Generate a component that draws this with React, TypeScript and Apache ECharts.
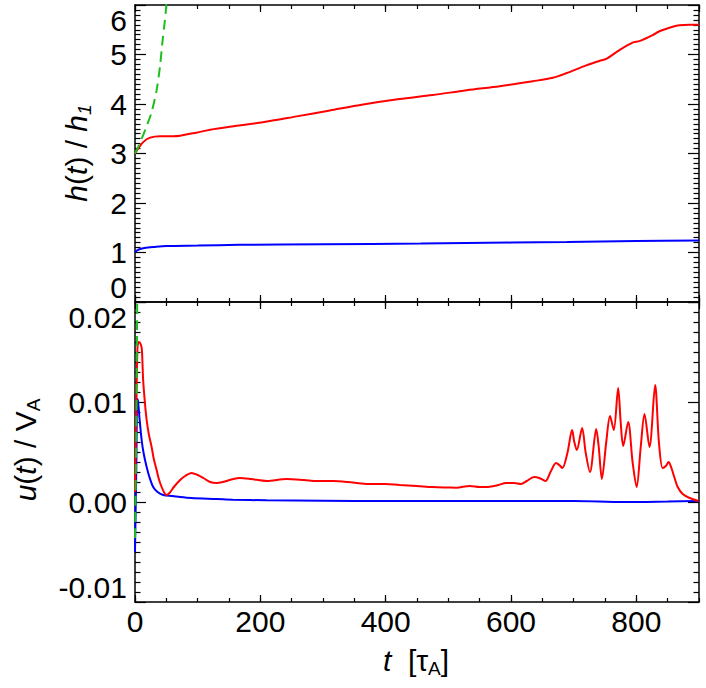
import React, { useEffect, useRef } from 'react';
import * as echarts from 'echarts';

// ---------- data: top panel h(t)/h1 ----------
const hRedT = [0, 5, 13, 24, 40, 61, 72, 88, 98, 120, 151, 204, 258, 311, 364, 422, 475, 529, 582, 635, 667, 688, 720, 741, 752, 773, 794, 805, 826, 837, 858, 869, 885, 900];
const hRedV = [3.0, 3.1, 3.23, 3.32, 3.35, 3.35, 3.36, 3.4, 3.42, 3.48, 3.54, 3.63, 3.75, 3.87, 3.99, 4.1, 4.18, 4.28, 4.36, 4.46, 4.53, 4.62, 4.78, 4.87, 4.91, 5.09, 5.24, 5.27, 5.39, 5.47, 5.56, 5.59, 5.6, 5.6];
const hBlueT = [0, 3, 8, 15, 30, 50, 100, 166, 300, 456, 600, 689, 800, 900];
const hBlueV = [1.0, 1.04, 1.07, 1.09, 1.11, 1.13, 1.14, 1.155, 1.165, 1.18, 1.2, 1.21, 1.23, 1.24];
const hGreenT = [0, 5, 13, 20, 26.6, 34.5, 39.8, 43.5, 47.8, 50, 53];
const hGreenV = [3.0, 3.13, 3.37, 3.6, 3.84, 4.28, 4.75, 5.22, 5.7, 6.0, 6.4];

// ---------- data: bottom panel u(t)/V_A ----------
const uRedT = [0, 2, 4, 6, 9, 11, 13, 16, 18.6, 22, 26.5, 30, 34.5, 38, 42.5, 47, 50.5, 55, 62, 72, 80, 90, 100, 109, 120, 130, 140, 157, 167, 185, 210, 242, 270, 290, 316, 340, 369, 400, 422, 450, 475, 500, 513, 534, 550, 566, 580, 592, 605, 616, 625, 637, 645, 655, 663, 672, 677, 682, 690, 697.5, 701, 705, 713.5, 719, 726, 736, 740, 745, 752, 758, 764, 771, 775, 779, 787, 794, 800.5, 807, 813, 821, 830, 836, 842, 847, 851.5, 856, 860.5, 866, 874, 885, 899];
const uRedV = [0.001, 0.009, 0.0155, 0.016, 0.0158, 0.0152, 0.0122, 0.0098, 0.0082, 0.0068, 0.0055, 0.0043, 0.0032, 0.0023, 0.0015, 0.0009, 0.0007, 0.0009, 0.0015, 0.0022, 0.0026, 0.0029, 0.0027, 0.0024, 0.002, 0.0019, 0.002, 0.0023, 0.0024, 0.0023, 0.0021, 0.0023, 0.0022, 0.0021, 0.0021, 0.002, 0.0018, 0.0018, 0.0017, 0.0016, 0.0015, 0.00145, 0.00143, 0.0016, 0.0015, 0.00153, 0.0017, 0.0019, 0.0019, 0.0018, 0.0021, 0.0025, 0.0024, 0.0021, 0.003, 0.0039, 0.0037, 0.0034, 0.0049, 0.0072, 0.006, 0.0052, 0.0074, 0.005, 0.003, 0.0073, 0.0055, 0.0023, 0.006, 0.0086, 0.0072, 0.0114, 0.008, 0.0056, 0.008, 0.004, 0.0015, 0.0055, 0.0088, 0.0055, 0.0117, 0.006, 0.0034, 0.0036, 0.004, 0.0034, 0.0025, 0.0015, 0.0008, 0.0004, 0.0001];
const uBlueT = [0, 2, 3.7, 5, 7, 10.6, 14, 18.6, 23, 29, 36, 45, 60, 72, 90, 131, 156, 210, 300, 400, 500, 600, 700, 780, 850, 900];
const uBlueV = [-0.005, 0.003, 0.0103, 0.01, 0.0085, 0.0062, 0.0048, 0.0035, 0.0025, 0.0015, 0.001, 0.0007, 0.0006, 0.0005, 0.0004, 0.0003, 0.00023, 0.00017, 0.00012, 0.0001, 0.0001, 0.0001, 0.0001, 0.0, 0.00005, 0.0001];
const uGreenT = [0, 1, 2, 3, 4];
const uGreenV = [-0.0036, 0.001, 0.007, 0.015, 0.025];

// ---------- axis ticks ----------
const hTicks = { min: 0, max: 6, interval: 1 };
const uTicks = { min: -0.01, max: 0.02, interval: 0.01 };
const tTicks = { min: 0, max: 900, major: 200, minor: 50 };

const zip = (t: number[], v: number[]) => t.map((x, i) => [x, v[i]]);

const FONT = "'Liberation Sans', Arial, Helvetica, sans-serif";
const AXLINE = { color: '#000', width: 1.5 };
const TICKLINE = { color: '#000', width: 1.2 };
const RED = '#ff0000';
const BLUE = '#0000ff';
const GREEN = '#1ebe1e';

function xMajor(grid: number, pos: string, labels: boolean) {
  return {
    type: 'value', gridIndex: grid, position: pos, min: tTicks.min, max: tTicks.max, interval: tTicks.major,
    axisLine: { show: true, onZero: false, lineStyle: AXLINE },
    axisTick: { show: true, inside: true, length: 7, lineStyle: TICKLINE },
    axisLabel: labels
      ? { show: true, fontSize: 30, fontFamily: FONT, color: '#000', margin: 4, showMaxLabel: false }
      : { show: false },
    splitLine: { show: false },
  };
}
function xMinor(grid: number, pos: string) {
  return {
    type: 'value', gridIndex: grid, position: pos, min: tTicks.min, max: tTicks.max, interval: tTicks.minor,
    axisLine: { show: false, onZero: false },
    axisTick: { show: true, inside: true, length: 4, lineStyle: TICKLINE },
    axisLabel: { show: false },
    splitLine: { show: false },
  };
}
function yAx(grid: number, pos: string, t: { min: number; max: number; interval: number }, labels: boolean, fmt?: (v: number) => string) {
  return {
    type: 'value', gridIndex: grid, position: pos, min: t.min, max: t.max, interval: t.interval,
    axisLine: { show: true, onZero: false, lineStyle: AXLINE },
    axisTick: { show: true, inside: true, length: 11, lineStyle: TICKLINE },
    minorTick: { show: true, splitNumber: 10, length: 5.5, lineStyle: TICKLINE },
    axisLabel: labels
      ? {
          show: true, fontSize: 30, fontFamily: FONT, color: '#000', margin: 8,
          formatter: fmt, verticalAlignMinLabel: 'bottom', verticalAlignMaxLabel: 'top',
        }
      : { show: false },
    splitLine: { show: false },
    minorSplitLine: { show: false },
  };
}

const italicStyle = { fontStyle: 'italic', fontSize: 30, fontFamily: FONT, lineHeight: 36, verticalAlign: 'middle' };
const normStyle = { fontSize: 30, fontFamily: FONT, lineHeight: 36 };

export default function App() {
  const ref = useRef<HTMLDivElement>(null);
  useEffect(() => {
    const chart = echarts.init(ref.current!, null, { renderer: 'svg' });
    const option: any = {
      animation: false,
      backgroundColor: '#fff',
      grid: [
        { left: 135, top: 5, width: 564, height: 297 },
        { left: 135, top: 302, width: 564, height: 300 },
      ],
      xAxis: [
        xMajor(0, 'bottom', false), xMinor(0, 'bottom'),
        xMajor(0, 'top', false), xMinor(0, 'top'),
        xMajor(1, 'bottom', true), xMinor(1, 'bottom'),
        xMajor(1, 'top', false), xMinor(1, 'top'),
      ],
      yAxis: [
        yAx(0, 'left', hTicks, true, (v: number) => String(Math.round(v))),
        yAx(0, 'right', hTicks, false),
        yAx(1, 'left', uTicks, true, (v: number) => (Math.abs(v) < 1e-9 ? '0.00' : v.toFixed(2))),
        yAx(1, 'right', uTicks, false),
      ],
      series: [
        { type: 'line', xAxisIndex: 0, yAxisIndex: 0, data: zip(hBlueT, hBlueV), showSymbol: false, smooth: 0.3, lineStyle: { color: BLUE, width: 2 }, clip: true },
        { type: 'line', xAxisIndex: 0, yAxisIndex: 0, data: zip(hRedT, hRedV), showSymbol: false, smooth: 0.3, lineStyle: { color: RED, width: 2 }, clip: true },
        { type: 'line', xAxisIndex: 0, yAxisIndex: 0, data: zip(hGreenT, hGreenV), showSymbol: false, smooth: 0.3, lineStyle: { color: GREEN, width: 2, type: [10, 6] }, clip: true },
        { type: 'line', xAxisIndex: 4, yAxisIndex: 2, data: zip(uBlueT, uBlueV), showSymbol: false, smooth: 0.3, lineStyle: { color: BLUE, width: 2 }, clip: true },
        { type: 'line', xAxisIndex: 4, yAxisIndex: 2, data: zip(uRedT, uRedV), showSymbol: false, smooth: 0.3, lineStyle: { color: RED, width: 2 }, clip: true },
        { type: 'line', xAxisIndex: 4, yAxisIndex: 2, data: zip(uGreenT, uGreenV), showSymbol: false, smooth: 0.2, lineStyle: { color: GREEN, width: 2, type: [10, 6] }, clip: true },
      ],
      graphic: [
        {
          type: 'text', x: 76, y: 153, rotation: Math.PI / 2,
          style: {
            text: '{i|h}{n|(}{i|t}{n|) / }{i|h}{s|1}',
            align: 'center', verticalAlign: 'middle', fill: '#000',
            rich: { i: italicStyle, n: normStyle, s: { fontStyle: 'italic', fontSize: 19, fontFamily: FONT, lineHeight: 20, verticalAlign: 'bottom' } },
          },
        },
        {
          type: 'text', x: 25, y: 450, rotation: Math.PI / 2,
          style: {
            text: '{i|u}{n|(}{i|t}{n|) / V}{s|A}',
            align: 'center', verticalAlign: 'middle', fill: '#000',
            rich: { i: italicStyle, n: normStyle, s: { fontSize: 19, fontFamily: FONT, lineHeight: 20, verticalAlign: 'bottom' } },
          },
        },
        {
          type: 'text', x: 416, y: 660,
          style: {
            text: '{i|t}{n|  [τ}{s|A}{n|]}',
            align: 'center', verticalAlign: 'middle', fill: '#000',
            rich: { i: italicStyle, n: normStyle, s: { fontSize: 19, fontFamily: FONT, lineHeight: 20, verticalAlign: 'bottom' } },
          },
        },
      ],
    };
    chart.setOption(option);
    return () => chart.dispose();
  }, []);
  return <div ref={ref} style={{ position: 'absolute', left: 0, top: 0, width: 706, height: 688 }} />;
}
